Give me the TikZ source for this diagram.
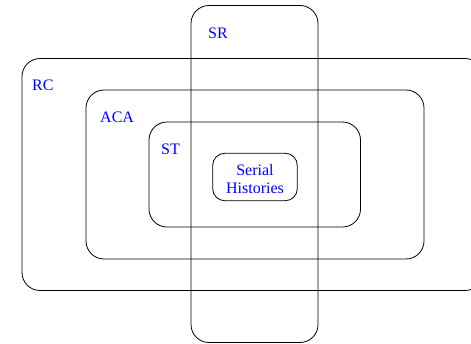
\documentclass[tikz,border=0pt]{standalone}
\usepackage{fontspec}
\setmainfont{Liberation Serif}

\begin{document}
\begin{tikzpicture}[x=1pt, y=-1pt,
    set/.style={rectangle, draw, rounded corners=18pt, line width=0.8pt},
    lbl/.style={text=blue, font=\fontsize{16}{18.3}\selectfont, inner sep=0pt}]
  \useasboundingbox (0,0) rectangle (471,343);
  \clip (0,0) rectangle (471,343);

  \node (rc) [set, minimum width=461pt, minimum height=232pt] at (252.5, 174.5) {};
  \node (aca) [set, minimum width=338pt, minimum height=169pt] at (255, 174.5) {};
  \node (st) [set, minimum width=211.5pt, minimum height=105pt] at (254.75, 174.5) {};
  \node (sr) [set, minimum width=127pt, minimum height=337pt] at (254.5, 174) {};
  \node (sh) [set, rounded corners=12pt, minimum width=84.6pt, minimum height=47.4pt] at (255, 177) {};

  \node (srlabel) [lbl, anchor=base west] at (208, 38) {SR};
  \node (rclabel) [lbl, anchor=base west] at (32, 90) {RC};
  \node (acalabel) [lbl, anchor=base west] at (100, 122) {ACA};
  \node (stlabel) [lbl, anchor=base west] at (161, 154) {ST};
  \node (shlabel) [lbl, align=center, anchor=base] at (255, 193.3) {Serial\\Histories};
\end{tikzpicture}
\end{document}
